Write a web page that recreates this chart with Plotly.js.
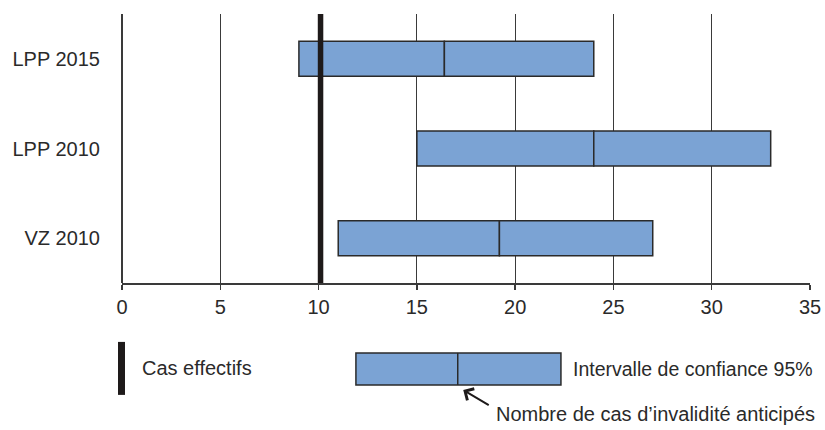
<!DOCTYPE html>
<html><head><meta charset="utf-8">
<script src="https://cdn.plot.ly/plotly-3.0.1.min.js"></script>
<style>html,body{margin:0;padding:0;background:#fff}#chart{width:825px;height:430px}</style>
</head><body><div id="chart"></div>
<script>
const categories = ["LPP 2015", "LPP 2010", "VZ 2010"];
const lowerCI = [9.0, 15.0, 11.0];
const expected = [16.4, 24.0, 19.2];
const upperCI = [24.0, 33.0, 27.0];
const actualCases = 10.1;
const xTicks = [0, 5, 10, 15, 20, 25, 30, 35];

const FONT = "'Liberation Sans', Arial, sans-serif";
const TXT = "#2a2a2a";
const FILL = "#7ba3d4";
const EDGE = "#2a2a2a";

const lowSeg = {
  type: "bar", orientation: "h", y: categories,
  base: lowerCI, x: expected.map((m, i) => m - lowerCI[i]),
  width: 0.39, marker: {color: FILL, line: {color: EDGE, width: 1.5}},
  hoverinfo: "skip", showlegend: false
};
const highSeg = {
  type: "bar", orientation: "h", y: categories,
  base: expected, x: upperCI.map((u, i) => u - expected[i]),
  width: 0.39, marker: {color: FILL, line: {color: EDGE, width: 1.5}},
  hoverinfo: "skip", showlegend: false
};

const layout = {
  width: 825, height: 430,
  margin: {l: 122, r: 15, t: 14, b: 147},
  paper_bgcolor: "#fff", plot_bgcolor: "#fff",
  barmode: "overlay",
  font: {family: FONT, size: 20, color: TXT},
  xaxis: {
    range: [0, 35], tickvals: xTicks, ticktext: xTicks.map(String),
    showgrid: true, gridcolor: "#3a3a3a", gridwidth: 1.2,
    zeroline: true, zerolinecolor: "#3a3a3a", zerolinewidth: 1.2,
    showline: true, linecolor: "#3a3a3a", linewidth: 1.5,
    ticks: "outside", ticklen: 5, tickcolor: "#3a3a3a", tickwidth: 1.5,
    tickfont: {family: FONT, size: 20, color: TXT},
    fixedrange: true
  },
  yaxis: {
    type: "category", categoryorder: "array", categoryarray: categories,
    autorange: "reversed", showgrid: false, zeroline: false, showline: false,
    ticks: "", ticklabelstandoff: 21,
    tickfont: {family: FONT, size: 20, color: TXT},
    fixedrange: true
  },
  shapes: [
    {type: "line", xref: "x", yref: "paper", x0: actualCases, x1: actualCases, y0: 0, y1: 1,
     line: {color: "#1e1a1a", width: 5.5}, layer: "above"},
    {type: "line", xref: "paper", yref: "paper", x0: -0.0007, x1: -0.0007, y0: -0.219, y1: -0.416,
     line: {color: "#1e1a1a", width: 7}},
    {type: "rect", xref: "paper", yref: "paper", x0: 0.340, x1: 0.638, y0: -0.260, y1: -0.379,
     fillcolor: FILL, line: {color: EDGE, width: 1.5}},
    {type: "line", xref: "paper", yref: "paper", x0: 0.488, x1: 0.488, y0: -0.260, y1: -0.379,
     line: {color: EDGE, width: 1.5}}
  ],
  annotations: [
    {xref: "paper", yref: "paper", x: 0.026, y: -0.317, xanchor: "left", yanchor: "middle",
     text: "Cas effectifs", showarrow: false, font: {family: FONT, size: 20, color: TXT}},
    {xref: "paper", yref: "paper", x: 0.653, y: -0.320, xanchor: "left", yanchor: "middle",
     text: "Intervalle de confiance 95%", showarrow: false, font: {family: FONT, size: 19.5, color: TXT}},
    {xref: "paper", yref: "paper", x: 0.541, y: -0.487, xanchor: "left", yanchor: "middle",
     text: "Nombre de cas d’invalidité anticipés", showarrow: false, font: {family: FONT, size: 20, color: TXT}},
    {xref: "paper", yref: "paper", x: 0.496, y: -0.398, text: "", showarrow: true,
     ax: 27, ay: 16, arrowhead: 4, arrowsize: 1.3, arrowwidth: 2, arrowcolor: "#1e1a1a", standoff: 0}
  ]
};

Plotly.newPlot("chart", [lowSeg, highSeg], layout, {displayModeBar: false, staticPlot: true});
</script>
</body></html>
